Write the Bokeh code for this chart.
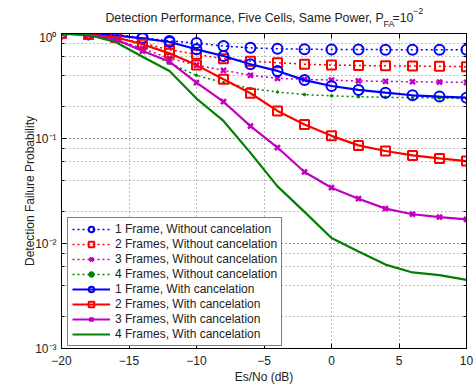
from bokeh.plotting import figure
from bokeh.layouts import column
from bokeh.models import (Label, Legend, LegendItem, FixedTicker, LogTicker,
                          CustomJSTickFormatter, LogAxis, LinearAxis)
from bokeh.embed import file_html
from bokeh.resources import INLINE

# ---------------- data ----------------
es_no = [-20, -18, -16, -14, -12, -10, -8, -6, -4, -2, 0, 2, 4, 6, 8, 10]

f1_without = [1.0, 1.0, 0.98, 0.91, 0.85, 0.81, 0.76, 0.73, 0.716, 0.707, 0.705, 0.703, 0.702, 0.70, 0.70, 0.70]
f2_without = [1.0, 0.98, 0.92, 0.81, 0.70, 0.634, 0.575, 0.545, 0.527, 0.51, 0.50, 0.496, 0.492, 0.49, 0.487, 0.483]
f3_without = [1.0, 0.97, 0.88, 0.72, 0.58, 0.50, 0.446, 0.40, 0.374, 0.366, 0.36, 0.353, 0.35, 0.347, 0.345, 0.342]
f4_without = [1.0, 0.96, 0.87, 0.70, 0.52, 0.40, 0.34, 0.30, 0.277, 0.262, 0.255, 0.25, 0.247, 0.245, 0.243, 0.24]

f1_with = [1.0, 0.98, 0.96, 0.90, 0.83, 0.707, 0.61, 0.51, 0.44, 0.36, 0.316, 0.29, 0.273, 0.258, 0.251, 0.245]
f2_with = [1.0, 0.98, 0.92, 0.79, 0.647, 0.50, 0.366, 0.27, 0.183, 0.136, 0.106, 0.086, 0.076, 0.069, 0.0646, 0.061]
f3_with = [1.0, 0.97, 0.88, 0.68, 0.54, 0.34, 0.224, 0.131, 0.082, 0.048, 0.034, 0.0267, 0.0215, 0.019, 0.0178, 0.017]
f4_with = [0.99, 0.97, 0.83, 0.60, 0.44, 0.24, 0.147, 0.073, 0.035, 0.02, 0.0113, 0.0084, 0.0063, 0.0053, 0.005, 0.0045]

x_ticks = [-20, -15, -10, -5, 0, 5, 10]
labels = ["1 Frame, Without cancelation", "2 Frames, Without cancelation",
          "3 Frames, Without cancelation", "4 Frames, Without cancelation",
          "1 Frame, With cancelation", "2 Frames, With cancelation",
          "3 Frames, With cancelation", "4 Frames, With cancelation"]
title_main = "Detection Performance, Five Cells, Same Power, P"
title_sub = "FA"
title_eq = "=10"
title_sup = "\u22122"

FONT = "Liberation Sans"
TXT = "#222222"

# ---------------- title strip ----------------
TH = 30
pt = figure(width=474, height=TH, x_range=(0, 474), y_range=(0, TH),
            output_backend="svg", toolbar_location=None,
            x_axis_location=None, y_axis_location=None,
            min_border_left=0, min_border_right=0, min_border_top=0, min_border_bottom=0)
pt.outline_line_color = None
pt.grid.visible = False
pt.background_fill_color = "white"
pt.border_fill_color = "white"
for txt, xx, yy, fs, al in [(title_main, 377.0, TH - 17.3, "12.3px", "right"),
                            (title_sub, 377.0, TH - 23.0, "9px", "left"),
                            (title_eq, 387.5, TH - 17.3, "12.3px", "left"),
                            (title_sup, 411.5, TH - 10.0, "9px", "left")]:
    pt.add_layout(Label(x=xx, y=yy, text=txt, text_font=FONT, text_font_size=fs,
                        text_color=TXT, text_baseline="alphabetic", text_align=al))

# ---------------- main plot ----------------
p = figure(width=474, height=387 - TH, y_axis_type="log",
           x_range=(-20, 10), y_range=(1e-3, 1),
           output_backend="svg", toolbar_location=None,
           min_border_left=61, min_border_right=8,
           min_border_top=3, min_border_bottom=39)
p.background_fill_color = "white"
p.border_fill_color = "white"
p.outline_line_color = "black"
p.outline_line_width = 1

p.xaxis.ticker = FixedTicker(ticks=x_ticks, minor_ticks=[])
p.xaxis.formatter = CustomJSTickFormatter(
    code="return tick < 0 ? '\u2212' + Math.abs(tick) : String(tick);")
p.yaxis.ticker = LogTicker()
p.yaxis.formatter = CustomJSTickFormatter(code="""
const e = Math.round(Math.log10(tick));
const sup = {'0':'\u2070','1':'\u00b9','2':'\u00b2','3':'\u00b3','-':'\u207b'};
return '10' + String(e).split('').map(c => sup[c]).join('');
""")

for ax in [p.xaxis[0], p.yaxis[0]]:
    ax.axis_line_color = "black"
    ax.major_tick_in = 5
    ax.major_tick_out = 0
    ax.minor_tick_in = 3
    ax.minor_tick_out = 0
    ax.major_tick_line_color = "black"
    ax.minor_tick_line_color = "black"
    ax.major_label_text_font = FONT
    ax.major_label_text_font_size = "12px"
    ax.major_label_text_color = TXT
    ax.axis_label_text_font = FONT
    ax.axis_label_text_font_size = "12px"
    ax.axis_label_text_font_style = "normal"
    ax.axis_label_text_color = TXT

p.xaxis.axis_label = "Es/No (dB)"
p.yaxis.axis_label = "Detection Failure Probability"
p.xaxis.major_label_standoff = 7
p.yaxis.major_label_standoff = 5
p.xaxis.axis_label_standoff = 2
p.yaxis.axis_label_standoff = -5

blank = CustomJSTickFormatter(code="return '';")
right = LogAxis(ticker=LogTicker(), formatter=blank, major_tick_in=5, major_tick_out=0,
                minor_tick_in=3, minor_tick_out=0, major_label_standoff=0,
                axis_line_color="black", major_label_text_font_size="1px")
top = LinearAxis(ticker=FixedTicker(ticks=x_ticks, minor_ticks=[]), formatter=blank,
                 major_tick_in=5, major_tick_out=0, minor_tick_in=0, minor_tick_out=0,
                 major_label_standoff=0, axis_line_color="black",
                 major_label_text_font_size="1px")
p.add_layout(right, "right")
p.add_layout(top, "above")

for g in [p.xgrid[0], p.ygrid[0]]:
    g.grid_line_color = "#444444"
    g.grid_line_dash = "1 3"
    g.grid_line_alpha = 0.7
p.ygrid.minor_grid_line_color = "#444444"
p.ygrid.minor_grid_line_dash = "1 3"
p.ygrid.minor_grid_line_alpha = 0.7

BLUE, RED, MAG, GREEN = "#0000ff", "#ff0000", "#bf00bf", "#008000"
items = []

def series(y, color, dash, marker, msize, mlw, label):
    rs = []
    lw = 1.5 if dash else 2.2
    rs.append(p.line(es_no, y, line_color=color, line_width=lw,
                     line_dash=("2 3" if dash else "solid")))
    if marker == "dot":
        rs.append(p.scatter(es_no, y, marker="circle", size=msize, fill_color=color,
                            line_color=color, line_width=mlw))
    elif marker is not None:
        rs.append(p.scatter(es_no, y, marker=marker, size=msize, fill_color=None,
                            line_color=color, line_width=mlw))
    items.append(LegendItem(label=label, renderers=rs))

series(f1_without, BLUE, True, "circle", 10, 2, labels[0])
series(f2_without, RED, True, "square", 9, 2, labels[1])
series(f3_without, MAG, True, "x", 7, 2.5, labels[2])
series(f4_without, GREEN, True, "dot", 2.5, 1, labels[3])
series(f1_with, BLUE, False, "circle", 10, 2, labels[4])
series(f2_with, RED, False, "square", 9, 2, labels[5])
series(f3_with, MAG, False, "x", 7, 2.5, labels[6])
series(f4_with, GREEN, False, None, 0, 0, labels[7])

legend = Legend(items=items, location=(6, 2),
                label_text_font=FONT, label_text_font_size="12px",
                label_text_color=TXT,
                glyph_width=38, glyph_height=14, label_height=14,
                label_standoff=5, spacing=1, padding=4, margin=0,
                border_line_color="black", border_line_width=1.4,
                background_fill_color="white", background_fill_alpha=1)
p.add_layout(legend)

layout = column(pt, p, spacing=0)
open("out.html", "w").write(file_html(layout, INLINE))
